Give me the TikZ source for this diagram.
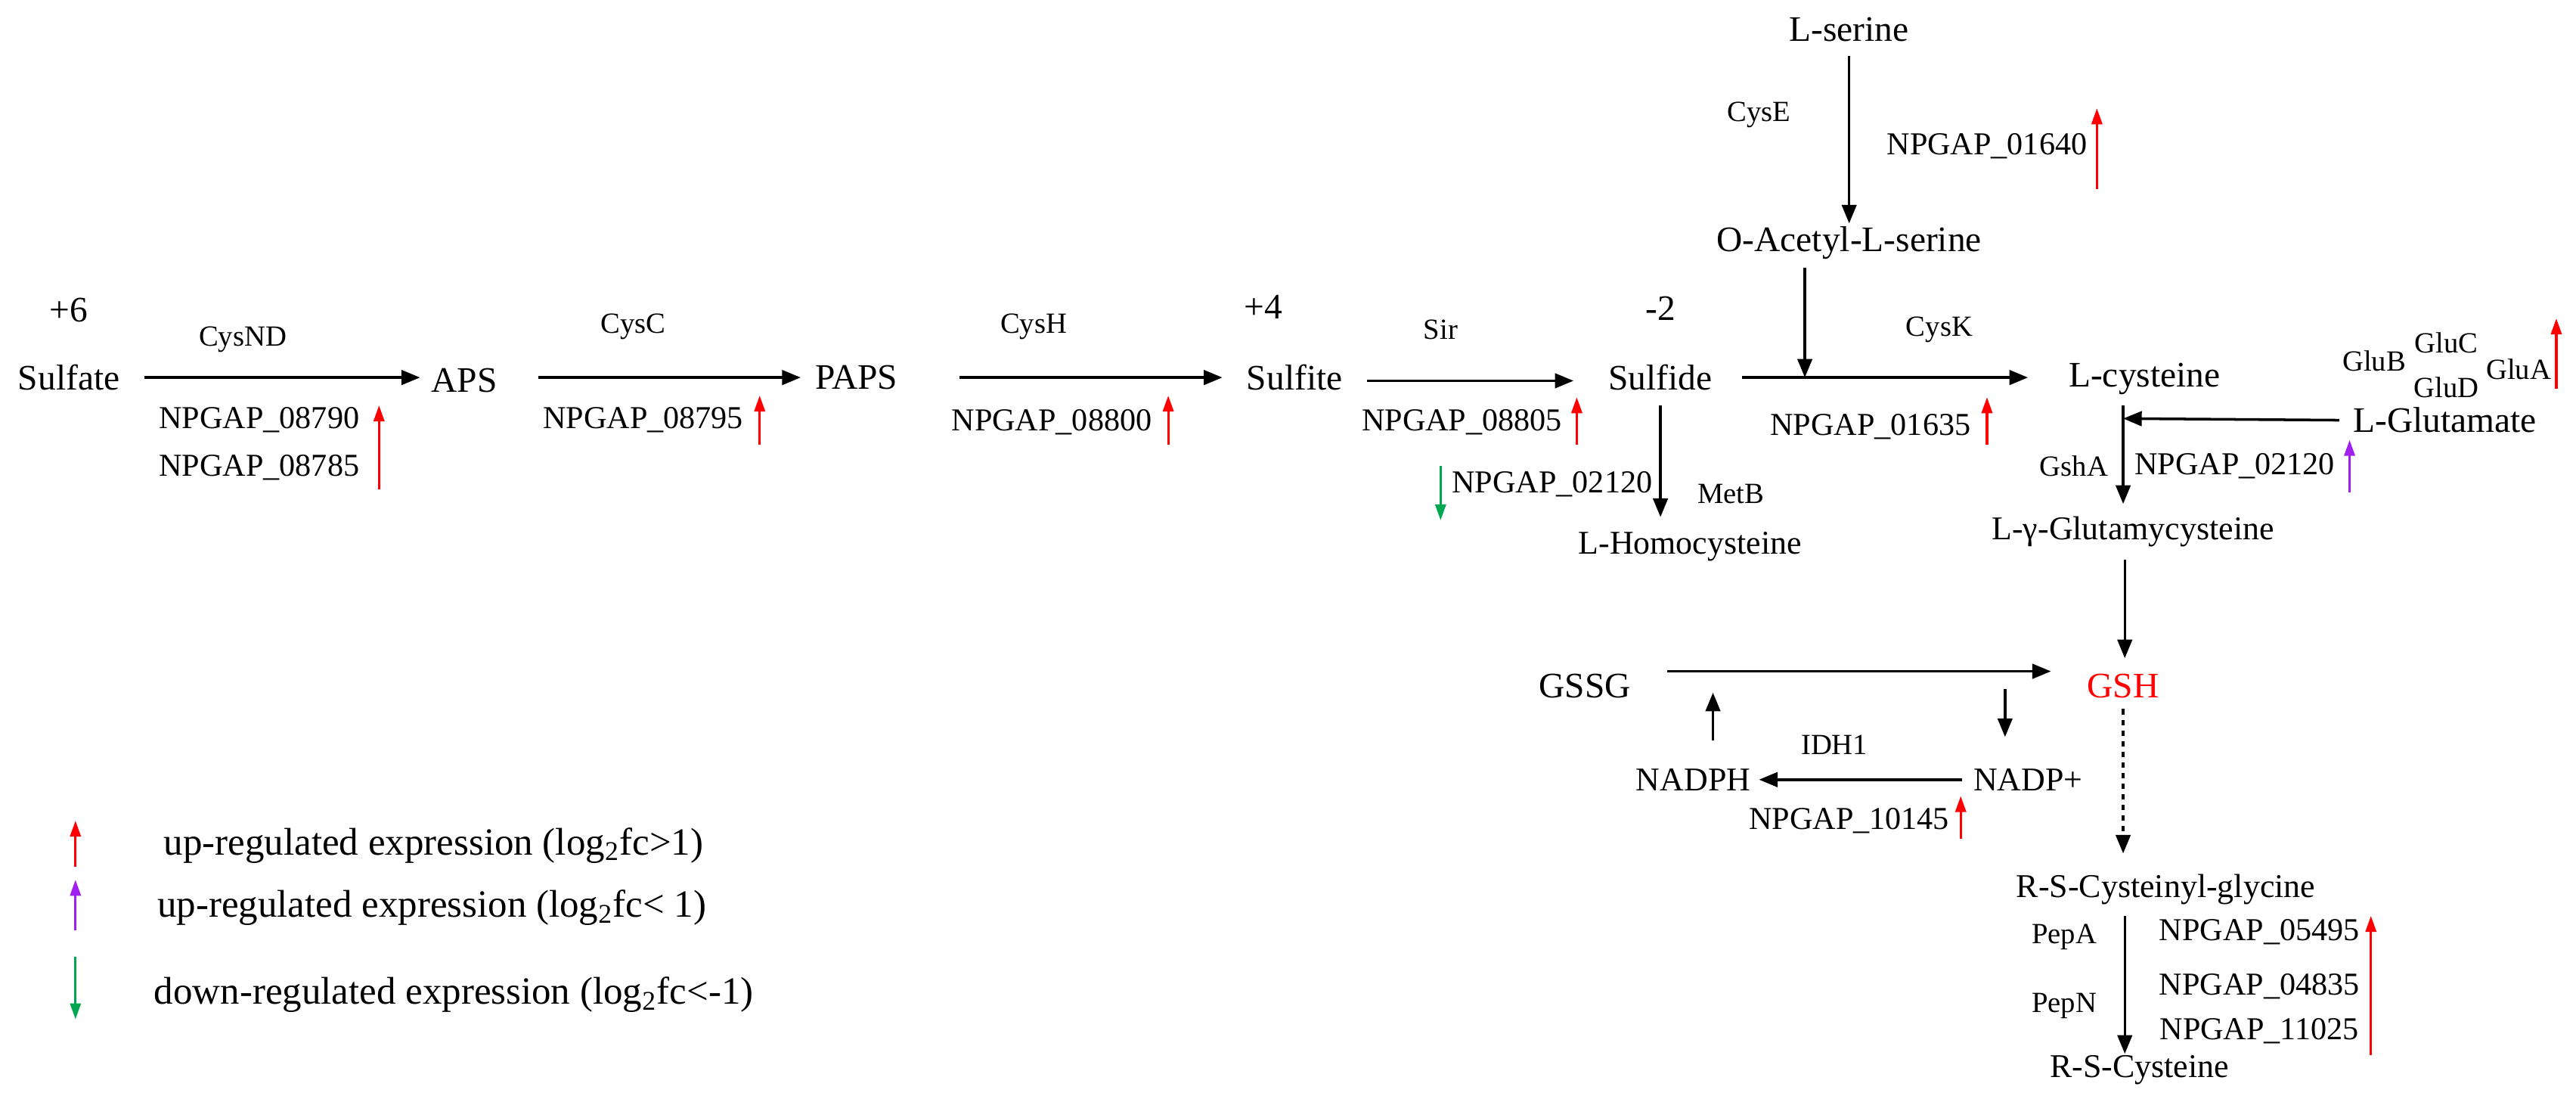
\documentclass[tikz,border=0pt]{standalone}
\usepackage{fontspec}
\setmainfont{Liberation Serif}
\usetikzlibrary{arrows.meta}
\definecolor{upred}{RGB}{255,0,0}
\definecolor{uppur}{RGB}{160,32,240}
\definecolor{dngrn}{RGB}{0,166,80}
\begin{document}
\begin{tikzpicture}[x=0.0217cm,y=-0.0217cm,
  met/.style={font=\fontsize{13.5}{15}\selectfont,inner sep=1pt},
  enz/.style={font=\fontsize{11}{13}\selectfont,inner sep=1pt},
  gene/.style={font=\fontsize{12}{14}\selectfont,inner sep=1pt},
  sm/.style={font=\fontsize{12.5}{14}\selectfont,inner sep=1pt},
  leg/.style={font=\fontsize{14.5}{17}\selectfont,inner sep=1pt,anchor=west},
  rx/.style={-{Triangle[length=7pt,width=5.5pt]},line width=1pt},
  reg/.style={-{Triangle[length=6pt,width=4pt]},line width=0.9pt},
  up/.style={reg,upred},pu/.style={reg,uppur},dn/.style={reg,dngrn}]
\useasboundingbox (0,0) rectangle (1570,671);
% metabolites
\node[met] (ox6) at (42,189) {+6};
\node[met] (sulfate) at (42,230) {Sulfate};
\node[met] (aps) at (283,232) {APS};
\node[met] (paps) at (522,230) {PAPS};
\node[met] (ox4) at (770,187) {+4};
\node[met] (sulfite) at (789,230) {Sulfite};
\node[met] (oxm2) at (1012,188) {-2};
\node[met] (sulfide) at (1012,230) {Sulfide};
\node[met] (lser) at (1127,18) {L-serine};
\node[met] (oas) at (1127,148) {O-Acetyl-L-serine};
\node[met] (lcys) at (1307,231) {L-cysteine};
\node[met] (lglu) at (1490,256) {L-Glutamate};
\node[sm] (lhcy) at (1030,333) {L-Homocysteine};
\node[sm] (ggc) at (1300,324) {L-γ-Glutamycysteine};
\node[met,text=upred] (gsh) at (1294,418) {GSH};
\node[met] (gssg) at (966,418) {GSSG};
\node[sm] (nadph) at (1032,475) {NADPH};
\node[sm] (nadp) at (1236,475) {NADP+};
\node[sm] (rscg) at (1320,542) {R-S-Cysteinyl-glycine};
\node[sm] (rsc) at (1304,652) {R-S-Cysteine};
% enzymes
\node[enz] (cysnd) at (148,207) {CysND};
\node[enz] (cysc) at (386,199) {CysC};
\node[enz] (cysh) at (630,199) {CysH};
\node[enz] (sir) at (878,201) {Sir};
\node[enz] (cyse) at (1072,70) {CysE};
\node[enz] (cysk) at (1182,201) {CysK};
\node[enz] (metb) at (1055,301) {MetB};
\node[enz] (gsha) at (1264,284) {GshA};
\node[enz] (glub) at (1447,220) {GluB};
\node[enz] (gluc) at (1491,209) {GluC};
\node[enz] (glua) at (1535,225) {GluA};
\node[enz] (glud) at (1491,236) {GluD};
\node[enz] (idh1) at (1118,454) {IDH1};
\node[enz] (pepa) at (1258,571) {PepA};
\node[enz] (pepn) at (1258,613) {PepN};
% genes
\node[gene] (g08790) at (158,256) {NPGAP\_08790};
\node[gene] (g08785) at (158,285) {NPGAP\_08785};
\node[gene] (g08795) at (392,256) {NPGAP\_08795};
\node[gene] (g08800) at (641,257) {NPGAP\_08800};
\node[gene] (g08805) at (891,257) {NPGAP\_08805};
\node[gene] (g01640) at (1211,89) {NPGAP\_01640};
\node[gene] (g01635) at (1140,260) {NPGAP\_01635};
\node[gene] (g02120a) at (946,295) {NPGAP\_02120};
\node[gene] (g02120b) at (1362,284) {NPGAP\_02120};
\node[gene] (g10145) at (1127,500) {NPGAP\_10145};
\node[gene] (g05495) at (1377,568) {NPGAP\_05495};
\node[gene] (g04835) at (1377,601) {NPGAP\_04835};
\node[gene] (g11025) at (1377,628) {NPGAP\_11025};
% reactions
\coordinate (r1) at (256,230);
\draw[rx] ([xshift=8]sulfate.east |- r1) -- (r1);
\coordinate (r2) at (488,230);
\draw[rx] (328,230) -- (r2);
\coordinate (r3) at (745,230);
\draw[rx] ([xshift=22]paps.east |- r3) -- (r3);
\coordinate (r4) at (959,232);
\draw[rx] ([xshift=8]sulfite.east |- r4) -- (r4);
\coordinate (r5) at (1236,230);
\draw[rx] ([xshift=10]sulfide.east |- r5) -- (r5);
\coordinate (e0) at (1127,34);
\draw[rx] (e0) -- (oas.north);
\coordinate (j0) at (1100,163);
\coordinate (j1) at (1100,230);
\draw[rx] (j0) -- (j1);
\coordinate (m0) at (1012,247);
\coordinate (m1) at (1012,315);
\draw[rx] (m0) -- (m1);
\coordinate (j2) at (1294,255);
\coordinate (v0) at (1294,247);
\coordinate (v1) at (1294,307);
\draw[line width=1pt] (v0) -- (j2);
\draw[rx] (j2) -- (v1);
\draw[rx] ([xshift=-4]lglu.west) -- (j2);
\coordinate (g1) at (1295,341);
\coordinate (g2) at (1295,401);
\draw[rx] (g1) -- (g2);
\coordinate (h2) at (1250,409);
\draw[rx] (1016,409) -- (h2);
\draw[rx] ([xshift=-3]nadp.west) -- ([xshift=2]nadph.east);
\coordinate (a1) at (1044,451); \coordinate (a2) at (1044,422);
\draw[rx] (a1) -- (a2);
\coordinate (b1) at (1222,420); \coordinate (b2) at (1222,449);
\draw[rx] (b1) -- (b2);
\coordinate (d1) at (1294,432);
\coordinate (d2) at (1294,520);
\draw[rx,dash pattern=on 2pt off 2pt] (d1) -- (d2);
\coordinate (p1) at (1295,558); \coordinate (p2) at (1295,642);
\draw[rx] (p1) -- (p2);
% regulation arrows
\draw[up] (231,298) -- (231,247);
\draw[up] (463,271) -- (463,241);
\draw[up] (712,271) -- (712,241);
\draw[up] (961,271) -- (961,242);
\draw[up] (1278,115) -- (1278,66);
\draw[up] (1211,271) -- (1211,242);
\draw[up] (1558,237) -- (1558,194);
\draw[pu] (1432,300) -- (1432,268);
\draw[dn] (878,284) -- (878,317);
\draw[up] (1195,511) -- (1195,485);
\draw[up] (1445,643) -- (1445,558);
% legend
\draw[up] (46,528) -- (46,500);
\draw[pu] (46,567) -- (46,536);
\draw[dn] (46,583) -- (46,621);
\node[leg] (l1) at (98,515) {up-regulated expression (log\textsubscript{2}fc>1)};
\node[leg] (l2) at (94,553) {up-regulated expression (log\textsubscript{2}fc< 1)};
\node[leg] (l3) at (92,606) {down-regulated expression (log\textsubscript{2}fc<-1)};
\end{tikzpicture}
\end{document}
